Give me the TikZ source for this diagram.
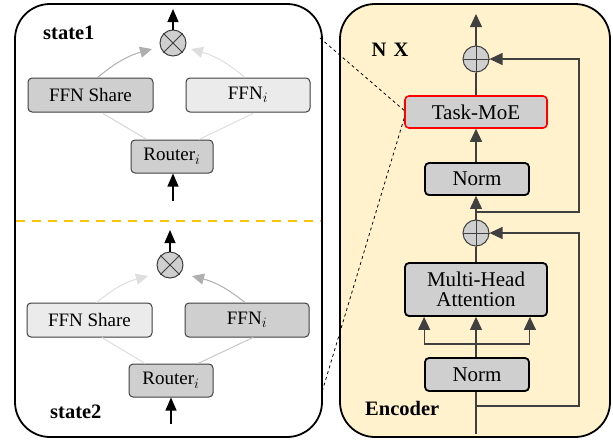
\documentclass[tikz,border=0pt]{standalone}
\usepackage{fontspec}
\setmainfont{Liberation Serif}
\usetikzlibrary{arrows.meta,positioning}
\definecolor{boxgray}{HTML}{D0CFCF}
\definecolor{boxlight}{HTML}{EBEBEB}
\definecolor{encyel}{HTML}{FFF2CC}
\definecolor{ln}{HTML}{404040}
\definecolor{gmid}{HTML}{AFAFAF}
\definecolor{glt}{HTML}{DEDEDE}
\definecolor{orng}{HTML}{FFC000}
\begin{document}
\begin{tikzpicture}[x=1pt,y=-1pt,
  panel/.style={line width=1.8pt,rounded corners=35pt},
  lbox/.style={draw=ln,line width=1pt,rounded corners=4pt,inner sep=0pt,font=\fontsize{19}{20}\selectfont},
  rbox/.style={draw=black,line width=1.8pt,rounded corners=4pt,inner sep=0pt,fill=boxgray,font=\fontsize{21}{23}\selectfont,align=center},
  opcirc/.style={circle,draw=ln,line width=1pt,fill=boxgray,minimum size=26pt,inner sep=0pt},
  lbl/.style={font=\fontsize{20.5}{22}\selectfont\bfseries,inner sep=0pt},
  blk/.style={line width=1.1pt,-{Triangle[length=13pt,width=11pt]}},
  ga/.style={line width=1pt,-{Triangle[length=12pt,width=11pt]}},
  rl/.style={draw=ln,line width=1.1pt},
  ra/.style={draw=ln,line width=1.1pt,-{Triangle[length=13pt,width=12pt]}}
]
\useasboundingbox (0,0) rectangle (613,442);
% panels
\draw[panel] (15,4) rectangle (322,437);
\draw[panel,fill=encyel] (340,4) rectangle (610,437);
% dashed zoom lines
\coordinate (zt) at (320,38);
\coordinate (zb) at (322,392);
\coordinate (zm) at (406,112);
\draw[dashed,line width=0.8pt] (zt) -- (zm) -- (zb);
% orange separator
\coordinate (sepL) at (16,221);
\coordinate (sepR) at (321,221);
\draw[orng,line width=2pt,dash pattern=on 9pt off 7pt] (sepL) -- (sepR);

% ---------- state 1 ----------
\node[lbl,anchor=west] (s1) at (43,33) {state1};
\node[opcirc] (c1) at (173,43) {};
\draw[ln,line width=1pt] (c1.north west) -- (c1.south east) (c1.north east) -- (c1.south west);
\node[lbox,fill=boxgray,minimum width=125pt,minimum height=34pt] (fs1) at (90.5,95) {FFN Share};
\node[lbox,fill=boxlight,minimum width=124pt,minimum height=34pt] (fi1) at (248,95) {FFN$_i$};
\node[lbox,fill=boxgray,minimum width=82pt,minimum height=33pt] (r1) at (172,156.5) {Router$_i$};
\coordinate (in1) at (173,201);
\coordinate (out1) at (173,9);
\coordinate (t1l) at (152,49);
\coordinate (t1r) at (191,49);
\draw[blk] (in1) -- (r1.south -| in1);
\draw[blk] (c1.north) -- (out1);
\draw[gmid,ga] (fs1.north) ++(7,0) to[bend left=12] (t1l);
\draw[glt,ga] (fi1.north) ++(-3,0) to[bend right=12] (t1r);
\draw[glt!90!gray,line width=1pt] (r1.north) ++(-25,0) -- ++(-44,-26);
\draw[glt,line width=1pt] (r1.north) ++(27,0) -- ++(54,-26);

% ---------- state 2 ----------
\node[lbl,anchor=west] (s2) at (50,412) {state2};
\node[opcirc] (c2) at (170,265) {};
\draw[ln,line width=1pt] (c2.north west) -- (c2.south east) (c2.north east) -- (c2.south west);
\node[lbox,fill=boxlight,minimum width=125pt,minimum height=34pt] (fs2) at (89.5,320) {FFN Share};
\node[lbox,fill=boxgray,minimum width=124pt,minimum height=34pt] (fi2) at (247,320) {FFN$_i$};
\node[lbox,fill=boxgray,minimum width=84pt,minimum height=33pt] (r2) at (171,380.5) {Router$_i$};
\coordinate (in2) at (171,424);
\coordinate (out2) at (170,230);
\coordinate (t2l) at (148,276);
\coordinate (t2r) at (192,276);
\draw[blk] (in2) -- (r2.south -| in2);
\draw[blk] (c2.north) -- (out2);
\draw[glt,ga] (fs2.north) ++(7,0) to[bend left=12] (t2l);
\draw[gmid,ga] (fi2.north) ++(-2,0) to[bend right=12] (t2r);
\draw[glt,line width=1pt] (r2.north) ++(-26,0) -- ++(-43,-26);
\draw[gmid!70!white,line width=1pt] (r2.north) ++(27,0) -- ++(55,-26);

% ---------- encoder ----------
\node[lbl] (nx) at (390,50) {N\hspace{0.35em}X};
\node[lbl,anchor=west] (enc) at (365,408) {Encoder};
\node[opcirc] (p1) at (476,59) {};
\draw[ln,line width=1pt] (p1.north) -- (p1.south) (p1.west) -- (p1.east);
\node[rbox,draw=red,line width=1.6pt,minimum width=142pt,minimum height=32pt] (tm) at (476,112) {Task-MoE};
\node[rbox,minimum width=104pt,minimum height=32pt] (n1) at (477,179) {Norm};
\node[opcirc] (p2) at (476,233) {};
\draw[ln,line width=1pt] (p2.north) -- (p2.south) (p2.west) -- (p2.east);
\node[rbox,minimum width=142pt,minimum height=53pt] (mha) at (476,289.5) {Multi-Head\\[-3pt]Attention};
\node[rbox,minimum width=104pt,minimum height=33pt] (n2) at (477,374.5) {Norm};

\coordinate (top) at (476,14);
\coordinate (bot) at (476,434);
\coordinate (br1) at (476,212);
\coordinate (br2) at (476,406);
\coordinate (skip) at (579,0);
\coordinate (fork) at (476,344);

\draw[ra] (p1.north) -- (top);
\draw[rl] (tm.north -| p1) -- (p1.south);
\draw[ra] (n1.north -| p1) -- (tm.south -| p1);
\draw[ra] (p2.north) -- (n1.south -| p2);
\draw[ra] (br1) -| (skip |- p1) -- (p1.east);
\draw[rl] (mha.north -| p2) -- (p2.south);
\draw[rl] (bot) -- (n2.south -| bot);
\draw[ra] (br2) -| (skip |- p2) -- (p2.east);
\draw[rl] (n2.north -| fork) -- (fork);
\draw[rl] (fork -| n2.west) -- (fork -| n2.east);
\draw[ra] (fork -| n2.west) -- (mha.south -| n2.west);
\draw[ra] (fork) -- (mha.south -| fork);
\draw[ra] (fork -| n2.east) -- (mha.south -| n2.east);
\end{tikzpicture}
\end{document}
